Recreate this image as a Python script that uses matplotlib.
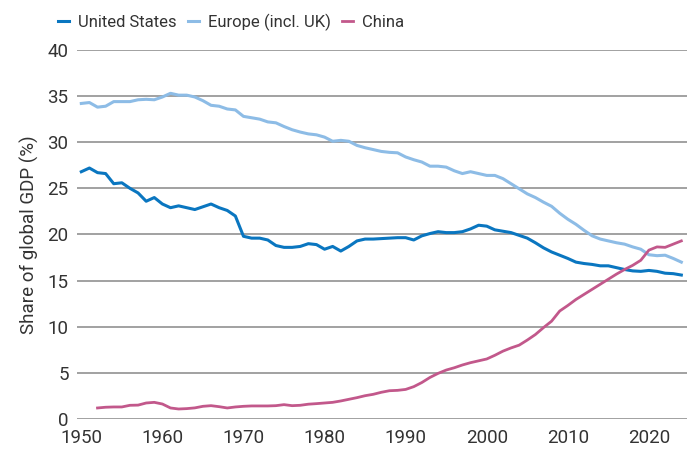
import numpy as np
import matplotlib.pyplot as plt

plt.rcParams['font.family'] = ['Roboto', 'DejaVu Sans']

# Share of global GDP (%)
years_us = list(range(1950, 2025))
us = [26.8, 27.2, 26.7, 26.6, 25.5, 25.6, 25.0, 24.5, 23.6, 24.0,
      23.3, 22.9, 23.1, 22.9, 22.7, 23.0, 23.3, 22.9, 22.6, 22.0,
      19.8, 19.6, 19.6, 19.4, 18.8, 18.6, 18.6, 18.7, 19.0, 18.9,
      18.4, 18.7, 18.2, 18.7, 19.3, 19.5, 19.5, 19.55, 19.6, 19.65,
      19.65, 19.4, 19.85, 20.1, 20.3, 20.2, 20.2, 20.3, 20.6, 21.0,
      20.9, 20.5, 20.35, 20.2, 19.9, 19.6, 19.1, 18.55, 18.1, 17.75,
      17.4, 17.0, 16.85, 16.75, 16.6, 16.6, 16.4, 16.2, 16.05, 16.0,
      16.1, 16.0, 15.8, 15.75, 15.6]

europe = [34.2, 34.3, 33.8, 33.9, 34.4, 34.4, 34.4, 34.6, 34.65, 34.6,
          34.9, 35.3, 35.1, 35.1, 34.9, 34.5, 34.0, 33.9, 33.6, 33.5,
          32.8, 32.65, 32.5, 32.2, 32.1, 31.7, 31.35, 31.1, 30.9, 30.8,
          30.55, 30.1, 30.2, 30.1, 29.65, 29.4, 29.2, 29.0, 28.9, 28.85,
          28.4, 28.1, 27.85, 27.4, 27.4, 27.3, 26.9, 26.6, 26.8, 26.6,
          26.4, 26.4, 26.05, 25.5, 24.95, 24.4, 24.0, 23.5, 23.05, 22.3,
          21.65, 21.1, 20.45, 19.85, 19.5, 19.3, 19.1, 18.95, 18.65, 18.4,
          17.8, 17.7, 17.75, 17.4, 17.0]

years_cn = list(range(1952, 2025))
china = [1.19, 1.27, 1.3, 1.3, 1.48, 1.5, 1.73, 1.8,
         1.62, 1.19, 1.08, 1.12, 1.2, 1.37, 1.44, 1.33, 1.19, 1.3,
         1.37, 1.41, 1.41, 1.41, 1.44, 1.55, 1.44, 1.48, 1.6, 1.66,
         1.73, 1.8, 1.95, 2.13, 2.31, 2.52, 2.67, 2.89, 3.06, 3.1,
         3.2, 3.5, 3.95, 4.5, 4.94, 5.3, 5.55, 5.85, 6.1, 6.3,
         6.5, 6.9, 7.35, 7.7, 8.0, 8.55, 9.15, 9.9, 10.6, 11.7,
         12.3, 12.95, 13.5, 14.05, 14.6, 15.15, 15.7, 16.2, 16.65, 17.2,
         18.3, 18.65, 18.6, 18.95, 19.3]

fig = plt.figure(figsize=(6.93, 4.5), dpi=100)
ax = fig.add_axes([0.111, 0.069, 0.88, 0.82])

l_us, = ax.plot(years_us, us, color='#0a76c0', lw=2.2, label='United States')
l_eu, = ax.plot(years_us, europe, color='#8dbce6', lw=2.2, label='Europe (incl. UK)')
l_cn, = ax.plot(years_cn, china, color='#c2588b', lw=2.0, label='China')

ax.set_xlim(1949.46, 2024.67)
ax.set_ylim(0, 40)
ax.set_xticks(np.arange(1950, 2021, 10))
ax.set_yticks(np.arange(0, 41, 5))
ax.yaxis.grid(True, color='#9a9a9a', lw=1.3)
ax.set_axisbelow(True)
for s in ax.spines.values():
    s.set_visible(False)
ax.tick_params(length=0, labelsize=13.5, labelcolor='#333333')
ax.tick_params(axis='x', pad=7)
ax.tick_params(axis='y', pad=6)
ax.set_ylabel('Share of global GDP (%)', fontsize=13.5, color='#333333', labelpad=6)

# one legend entry each, placed where the reference has them
for line, xpos in [(l_us, 0.084), (l_eu, 0.272), (l_cn, 0.494)]:
    fig.legend(handles=[line], loc='center left', bbox_to_anchor=(xpos, 0.951),
               frameon=False, borderpad=0, borderaxespad=0,
               handlelength=0.65, handletextpad=0.55, fontsize=12,
               labelcolor='#333333')

fig.savefig('out.png', dpi=100)
